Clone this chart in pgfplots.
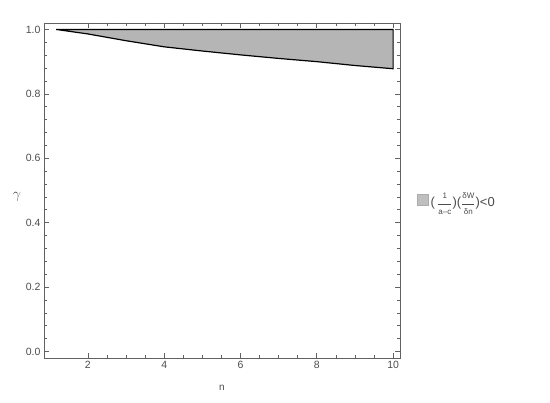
\documentclass[border=0pt]{standalone}
\usepackage{pgfplots}
\pgfplotsset{compat=1.18}
\usepackage{amsmath}
\usepackage{fontspec}
\setmainfont{Liberation Sans}
\definecolor{framec}{rgb}{0.38,0.38,0.38}
\definecolor{labc}{rgb}{0.30,0.30,0.30}
\definecolor{regfill}{rgb}{0.71,0.71,0.71}
\definecolor{legfill}{rgb}{0.75,0.75,0.75}
\newcommand{\sm}[1]{\text{\fontsize{8}{9}\selectfont #1}}
\begin{document}
\begin{tikzpicture}
  \begin{axis}[
      scale only axis,
      width=356pt, height=335pt,
      xmin=0.85, xmax=10.18,
      ymin=-0.02, ymax=1.02,
      xtick={2,4,6,8,10},
      ytick={0,0.2,0.4,0.6,0.8,1.0},
      minor x tick num=3,
      minor y tick num=4,
      tick align=inside,
      major tick length=5pt,
      minor tick length=3pt,
      axis line style={framec, line width=0.9pt},
      every tick/.style={framec, line width=0.7pt},
      tick label style={font=\fontsize{10.5}{12}\selectfont, text=labc},
      /pgf/number format/assume math mode=true,
      yticklabel style={/pgf/number format/.cd, fixed, fixed zerofill, precision=1},
      xlabel={n},
      ylabel={$\gamma$},
      xlabel style={font=\fontsize{10}{12}\selectfont, text=labc,
                    at={(axis description cs:0.5,0)}, yshift=-30pt, anchor=center},
      ylabel style={font=\fontsize{14}{16}\selectfont, text=labc,
                    at={(axis description cs:-0.076,0.48)}, rotate=-90, anchor=center},
      legend style={at={(rel axis cs:1.04,0.47)}, anchor=west, draw=none,
                    font=\fontsize{13}{15}\selectfont, text=labc,
                    cells={anchor=west}},
  ]
  \addlegendimage{legend image code/.code={\fill[legfill, draw=legfill!90!black, line width=0.3pt] (0pt,-5pt) rectangle (11pt,6pt);}}
  \addlegendentry{(\,$\dfrac{\sm{1}}{\sm{a–c}}$)($\dfrac{\sm{δW}}{\sm{δn}}$)<0}

  \addplot[
      fill=regfill,
      draw=black,
      line width=1.2pt,
      line join=miter,
      forget plot,
      ]
      coordinates {
          (1.17, 1.000)
          (2   , 0.986)
          (3   , 0.965)
          (4   , 0.946)
          (5   , 0.933)
          (6   , 0.921)
          (7   , 0.910)
          (8   , 0.900)
          (9   , 0.888)
          (10  , 0.878)
          (10  , 1.000)
      } -- cycle;
  \coordinate (sw) at (rel axis cs:0,0);
  \coordinate (ne) at (rel axis cs:1,1);
  \end{axis}
  \path[use as bounding box] ([xshift=-44pt, yshift=-45pt]sw) rectangle ([xshift=150pt, yshift=23pt]ne);
\end{tikzpicture}
\end{document}
